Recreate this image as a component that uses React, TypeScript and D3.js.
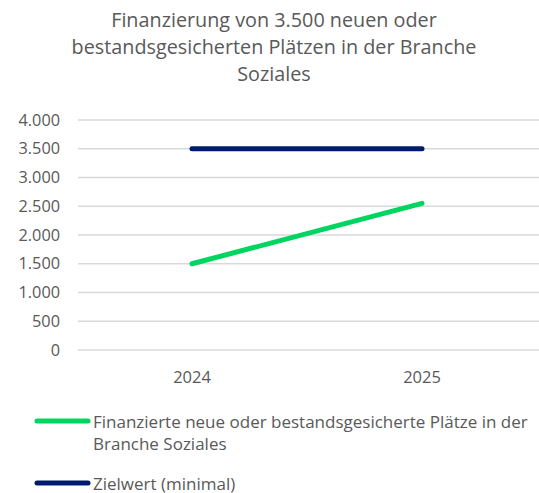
import React from "react";
import * as d3 from "d3";

const categories = ["2024", "2025"];
const seriesFinanziert = [1500, 2550];
const seriesZiel = [3500, 3500];
const yTicks = [0, 500, 1000, 1500, 2000, 2500, 3000, 3500, 4000];
const titleLines = [
  "Finanzierung von 3.500 neuen oder",
  "bestandsgesicherten Plätzen in der Branche",
  "Soziales",
];
const legendItems = [
  { lines: ["Finanzierte neue oder bestandsgesicherte Plätze in der", "Branche Soziales"], color: "#00d65f" },
  { lines: ["Zielwert (minimal)"], color: "#001a6e" },
];

const W = 539;
const H = 493;
const FONT = "'Open Sans', 'Noto Sans', sans-serif";
const TEXT = "#595959";

export default function App() {
  const x = d3.scaleBand<string>().domain(categories).range([77, 537]);
  const y = d3.scaleLinear().domain([0, 4000]).range([350, 120]);
  const fmt = (v: number) => d3.format(",")(v).replace(/,/g, ".");
  const line = d3
    .line<number>()
    .x((_, i) => (x(categories[i]) as number) + x.bandwidth() / 2)
    .y((d) => y(d));

  const series = [
    { values: seriesFinanziert, color: legendItems[0].color },
    { values: seriesZiel, color: legendItems[1].color },
  ];

  return (
    <svg
      width={W}
      height={H}
      style={{ position: "absolute", left: 0, top: 0, background: "#fff" }}
      fontFamily={FONT}
    >
      {titleLines.map((t, i) => (
        <text key={i} x={274} y={27 + i * 27} textAnchor="middle" fontSize={19.8} fill={TEXT}>
          {t}
        </text>
      ))}
      {yTicks.map((t) => (
        <g key={t}>
          <line x1={78} x2={539} y1={y(t)} y2={y(t)} stroke="#d9d9d9" strokeWidth={1.3} />
          <text x={60} y={y(t)} dy="0.35em" textAnchor="end" fontSize={16.3} fill={TEXT}>
            {fmt(t)}
          </text>
        </g>
      ))}
      {categories.map((c) => (
        <text
          key={c}
          x={(x(c) as number) + x.bandwidth() / 2}
          y={383}
          textAnchor="middle"
          fontSize={16.5}
          fill={TEXT}
        >
          {c}
        </text>
      ))}
      {series.map((s, i) => (
        <path
          key={i}
          d={line(s.values) || ""}
          fill="none"
          stroke={s.color}
          strokeWidth={5}
          strokeLinecap="round"
        />
      ))}
      {legendItems.map((it, i) => {
        const ly = i === 0 ? 421 : 483;
        return (
          <g key={i}>
            <line x1={37} x2={88} y1={ly} y2={ly} stroke={it.color} strokeWidth={5} strokeLinecap="round" />
            {it.lines.map((l, j) => (
              <text key={j} x={93} y={ly + 6.5 + j * 22.5} fontSize={17} fill={TEXT}>
                {l}
              </text>
            ))}
          </g>
        );
      })}
    </svg>
  );
}
